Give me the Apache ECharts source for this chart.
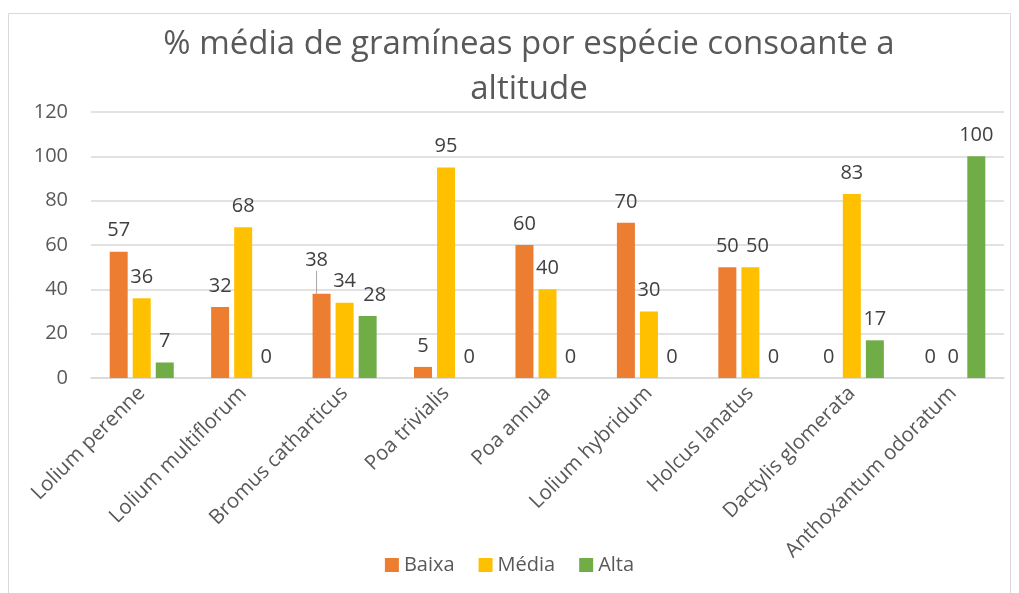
<!DOCTYPE html>
<html>
<head>
<meta charset="utf-8">
<script src="https://cdn.jsdelivr.net/npm/echarts@6/dist/echarts.min.js"></script>
<style>html,body{margin:0;padding:0;background:#fff}#c{width:1019px;height:593px}</style>
</head>
<body>
<div id="c"></div>
<script>
const categories = ['Lolium perenne','Lolium multiflorum','Bromus catharticus','Poa trivialis','Poa annua','Lolium hybridum','Holcus lanatus','Dactylis glomerata','Anthoxantum odoratum'];
const baixa = [57, 32, 38, 5, 60, 70, 50, 0, 0];
const media = [36, 68, 34, 95, 40, 30, 50, 83, 0];
const alta  = [7, 0, 28, 0, 0, 0, 0, 17, 100];
const seriesNames = ['Baixa','Média','Alta'];
const yTicks = {min: 0, max: 120, interval: 20};

// label nudges (series index -> {dataIndex: [dx, dy, leader]})
const nudges = {0: {2: [-5, -12, true]}, 1: {6: [7, 0]}, 2: {2: [7, 0]}};

const FONT = '"Open Sans", sans-serif';
const chart = echarts.init(document.getElementById('c'), null, {renderer: 'canvas'});
const lbl = {show: true, position: 'top', distance: 11, color: '#404040', fontSize: 20, fontFamily: FONT};
function mk(idx, values, color) {
  const data = values.map((v, i) => {
    const n = nudges[idx] && nudges[idx][i];
    return (n && n[2]) ? {value: v, labelLine: {show: true, lineStyle: {color: '#a6a6a6', width: 1}}} : v;
  });
  return {
    name: seriesNames[idx], type: 'bar', data, barWidth: 18, barGap: '28%', itemStyle: {color}, label: lbl,
    labelLine: {show: false},
    labelLayout: function (p) {
      const n = nudges[idx] && nudges[idx][p.dataIndex];
      return n ? {dx: n[0], dy: n[1]} : {};
    }
  };
}
chart.setOption({
  animation: false,
  textStyle: {fontFamily: FONT},
  graphic: [{type: 'rect', shape: {x: 8.5, y: 13.5, width: 1002, height: 600}, style: {fill: 'none', stroke: '#d9d9d9', lineWidth: 1}, silent: true}],
  title: {
    text: '% média de gramíneas por espécie consoante a\naltitude',
    left: 524, top: 17, textAlign: 'center',
    textStyle: {fontSize: 33, fontWeight: 'normal', color: '#595959', fontFamily: FONT, lineHeight: 45}
  },
  legend: {
    data: seriesNames, top: 550, left: 'center', itemWidth: 14, itemHeight: 14, itemGap: 24,
    icon: 'rect', textStyle: {fontSize: 20, color: '#595959', fontFamily: FONT}
  },
  grid: {left: 91, right: 15, top: 112, bottom: 215, containLabel: false},
  xAxis: {
    type: 'category', data: categories,
    axisLine: {lineStyle: {color: '#d9d9d9', width: 1.5}},
    axisTick: {show: false},
    axisLabel: {rotate: 45, interval: 0, fontSize: 20.5, color: '#595959', fontFamily: FONT, margin: 12}
  },
  yAxis: {
    type: 'value', min: yTicks.min, max: yTicks.max, interval: yTicks.interval,
    axisLine: {show: false}, axisTick: {show: false},
    axisLabel: {fontSize: 20, color: '#595959', fontFamily: FONT, margin: 23},
    splitLine: {lineStyle: {color: '#d9d9d9', width: 1.5}}
  },
  series: [mk(0, baixa, '#ED7D31'), mk(1, media, '#FFC000'), mk(2, alta, '#70AD47')]
});
</script>
</body>
</html>
